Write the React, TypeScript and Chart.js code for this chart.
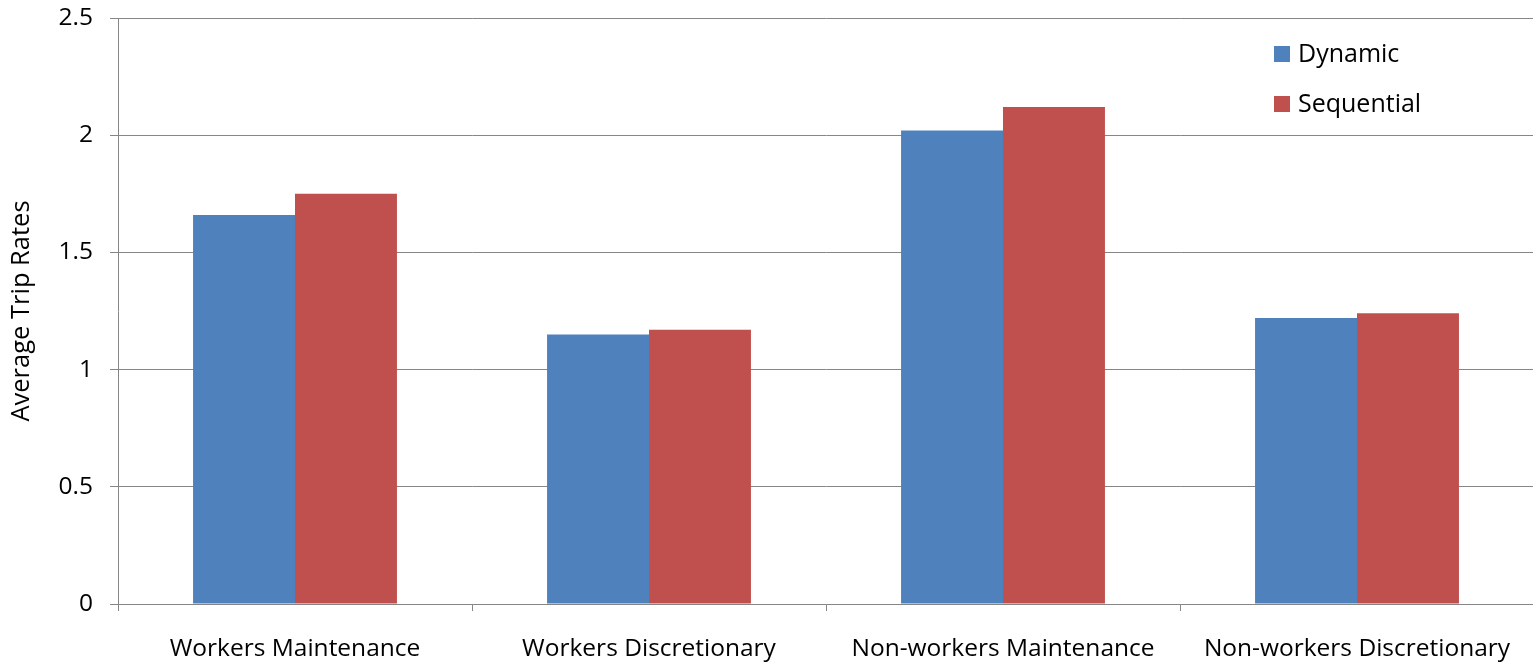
import React, { useEffect, useRef } from "react";
import { Chart, registerables } from "chart.js";

Chart.register(...registerables);

const categories = [
  "Workers Maintenance",
  "Workers Discretionary",
  "Non-workers Maintenance",
  "Non-workers Discretionary",
];
const seriesNames = ["Dynamic", "Sequential"];
const dynamicValues = [1.66, 1.15, 2.02, 1.22];
const sequentialValues = [1.75, 1.17, 2.12, 1.24];
const seriesColors = ["#4F81BD", "#C0504D"];
const yTickLabels = ["0", "0.5", "1", "1.5", "2", "2.5"];
const yTitle = "Average Trip Rates";

const FONT = "'Open Sans', 'Noto Sans', sans-serif";
const GRID = "#868686";

const legendPlugin = {
  id: "insideLegend",
  afterDraw(chart: any) {
    const { ctx, chartArea } = chart;
    ctx.save();
    ctx.font = `25px ${FONT}`;
    ctx.textBaseline = "middle";
    ctx.textAlign = "left";
    chart.data.datasets.forEach((ds: any, i: number) => {
      const bx = chartArea.right - 260;
      const cy = chartArea.top + 36 + i * 50;
      ctx.fillStyle = ds.backgroundColor;
      ctx.fillRect(bx, cy - 8, 16, 16);
      ctx.fillStyle = "#000";
      ctx.fillText(ds.label, bx + 24, cy + 1);
    });
    ctx.restore();
  },
};

export default function App() {
  const ref = useRef<HTMLCanvasElement | null>(null);
  useEffect(() => {
    document.body.style.margin = "0";
    if (!ref.current) return;
    const chart = new Chart(ref.current, {
      type: "bar",
      data: {
        labels: categories,
        datasets: [
          { label: seriesNames[0], data: dynamicValues, backgroundColor: seriesColors[0], borderWidth: 0 },
          { label: seriesNames[1], data: sequentialValues, backgroundColor: seriesColors[1], borderWidth: 0 },
        ],
      },
      options: {
        animation: false,
        responsive: true,
        maintainAspectRatio: false,
        layout: { padding: { top: 18, right: 11, left: 0, bottom: 0 } },
        datasets: { bar: { categoryPercentage: 0.576, barPercentage: 1 } },
        plugins: { legend: { display: false }, tooltip: { enabled: false } },
        scales: {
          x: {
            offset: true,
            grid: { offset: true, drawOnChartArea: false, drawTicks: true, tickLength: 7, color: GRID },
            border: { color: GRID },
            ticks: { font: { family: FONT, size: 24.5 }, color: "#000", padding: 23, maxRotation: 0, autoSkip: false },
            afterFit: (s: any) => { s.height = 65; s.paddingLeft = 0; s.paddingRight = 0; },
          },
          y: {
            min: 0,
            max: 2.5,
            grid: { color: GRID, tickLength: 8 },
            border: { color: GRID },
            ticks: {
              stepSize: 0.5,
              font: { family: FONT, size: 24.5 },
              color: "#000",
              padding: 17,
              callback: (_v: any, i: number) => yTickLabels[i],
            },
            title: { display: true, text: yTitle, font: { family: FONT, size: 25.5 }, color: "#000", padding: { top: 6, bottom: 0 } },
            afterFit: (s: any) => { s.width = 118; s.paddingTop = 0; s.paddingBottom = 0; },
          },
        },
      },
      plugins: [legendPlugin],
    });
    return () => chart.destroy();
  }, []);
  return (
    <div style={{ position: "absolute", left: 0, top: 0, width: 1533, height: 669, overflow: "hidden", background: "#fff" }}>
      <div style={{ position: "relative", width: 1545, height: 669 }}>
        <canvas ref={ref} />
      </div>
    </div>
  );
}
